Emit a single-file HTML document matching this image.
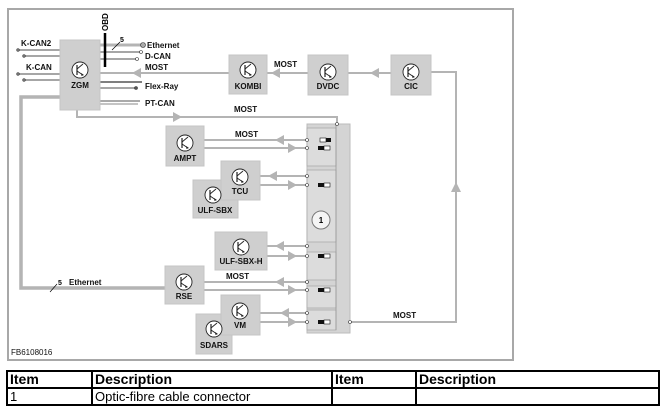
<!DOCTYPE html>
<html><head><meta charset="utf-8"><style>
body{margin:0;background:#fff;width:663px;height:416px;overflow:hidden;font-family:"Liberation Sans",sans-serif}
svg{position:absolute;left:0;top:0}
table{position:absolute;left:6px;top:370px;width:654px;border-collapse:collapse;table-layout:fixed;font-family:"Liberation Sans Narrow","Liberation Sans",sans-serif;font-size:13px}
td{border:2px solid #000;height:15px;padding:0 2px;line-height:15px;white-space:nowrap;overflow:hidden}
th{border:2px solid #000;height:15px;padding:0 2px;text-align:left;font-size:14px;line-height:15px}
</style></head><body>
<svg width="663" height="370" xmlns="http://www.w3.org/2000/svg" font-family="Liberation Sans, sans-serif" font-size="8" font-weight="bold">
<defs>
<g id="t"><circle cx="0" cy="0" r="8" fill="#fff" stroke="#222" stroke-width="0.9"/><line x1="-3" y1="-5" x2="-3" y2="5" stroke="#222" stroke-width="1.2"/><line x1="-3" y1="-1" x2="3" y2="-6" stroke="#222" stroke-width="0.9"/><line x1="-3" y1="1" x2="3" y2="5" stroke="#222" stroke-width="0.9"/><path d="M1 3 L4 5 L1.5 6 Z" fill="#222"/></g>
</defs>
<rect x="8" y="9" width="505" height="351" fill="#fff" stroke="#a8a8a8" stroke-width="2"/>
<g stroke="#b4b4b4" fill="none" stroke-width="2">
<line x1="18" y1="50" x2="60" y2="50" stroke="#888" stroke-width="1.5"/>
<line x1="24" y1="56" x2="60" y2="56" stroke="#888" stroke-width="1.5"/>
<line x1="18" y1="74" x2="60" y2="74" stroke="#888" stroke-width="1.5"/>
<line x1="24" y1="80" x2="60" y2="80" stroke="#888" stroke-width="1.5"/>
<polyline points="60,97 21,97 21,288 165,288" stroke-width="3.5"/>
<line x1="100" y1="45" x2="142" y2="45" stroke-width="3"/>
<line x1="100" y1="52" x2="140" y2="52" stroke="#888" stroke-width="1.5"/>
<line x1="100" y1="59" x2="136" y2="59" stroke="#888" stroke-width="1.5"/>
<line x1="100" y1="82" x2="142" y2="82" stroke="#555" stroke-width="1.5"/>
<line x1="100" y1="88" x2="136" y2="88" stroke="#888" stroke-width="1.5"/>
<line x1="100" y1="101" x2="140" y2="101" stroke="#555" stroke-width="1"/>
<line x1="100" y1="104" x2="138" y2="104" stroke="#888" stroke-width="1"/>
<polyline points="100,73 229,73"/>
<polyline points="267,73 308,73"/>
<polyline points="348,73 391,73"/>
<polyline points="431,72 456,72 456,322 350,322"/>
<polyline points="77,110 77,117 337,117 337,124"/>
<line x1="204" y1="140" x2="307" y2="140"/><line x1="204" y1="148" x2="307" y2="148"/>
<line x1="260" y1="176" x2="307" y2="176"/><line x1="260" y1="185" x2="307" y2="185"/>
<line x1="267" y1="246" x2="307" y2="246"/><line x1="267" y1="256" x2="307" y2="256"/>
<line x1="204" y1="282" x2="307" y2="282"/><line x1="204" y1="290" x2="307" y2="290"/>
<line x1="260" y1="313" x2="307" y2="313"/><line x1="260" y1="322" x2="307" y2="322"/>
</g>
<g fill="#b4b4b4">
<path d="M132 73 l9 -5 v10z"/><path d="M271 73 l9 -5 v10z"/><path d="M370 73 l9 -5 v10z"/>
<path d="M456 182 l-5 10 h10z"/><path d="M182 117 l-9 -5 v10z"/>
<path d="M275 140 l9 -5 v10z"/><path d="M297 148 l-9 -5 v10z"/>
<path d="M268 176 l9 -5 v10z"/><path d="M297 185 l-9 -5 v10z"/>
<path d="M275 246 l9 -5 v10z"/><path d="M297 256 l-9 -5 v10z"/>
<path d="M275 282 l9 -5 v10z"/><path d="M297 290 l-9 -5 v10z"/>
<path d="M280 313 l9 -5 v10z"/><path d="M297 322 l-9 -5 v10z"/>
</g>
<rect x="307" y="124" width="43" height="209" fill="#d4d4d4" stroke="#bbb"/>
<g fill="#dcdcdc" stroke="#aaa" stroke-width="0.8">
<rect x="307" y="128" width="29" height="38"/><rect x="307" y="170" width="29" height="72"/>
<rect x="307" y="252" width="29" height="28"/><rect x="307" y="286" width="29" height="22"/><rect x="307" y="310" width="29" height="20"/>
</g>
<line x1="336" y1="124" x2="336" y2="330" stroke="#999" stroke-width="0.8"/>
<circle cx="321" cy="220" r="9" fill="#f4f4f4" stroke="#777"/>
<text x="321" y="223" text-anchor="middle" font-size="8">1</text>
<g fill="#111">
<rect x="320" y="138" width="6" height="4" fill="#fff" stroke="#111" stroke-width="0.6"/><rect x="326" y="138" width="5" height="4"/>
<rect x="318" y="146" width="6" height="4"/><rect x="324" y="146" width="6" height="4" fill="#fff" stroke="#111" stroke-width="0.6"/>
<rect x="318" y="183" width="6" height="4"/><rect x="324" y="183" width="6" height="4" fill="#fff" stroke="#111" stroke-width="0.6"/>
<rect x="318" y="254" width="6" height="4"/><rect x="324" y="254" width="6" height="4" fill="#fff" stroke="#111" stroke-width="0.6"/>
<rect x="318" y="288" width="6" height="4"/><rect x="324" y="288" width="6" height="4" fill="#fff" stroke="#111" stroke-width="0.6"/>
<rect x="318" y="320" width="6" height="4"/><rect x="324" y="320" width="6" height="4" fill="#fff" stroke="#111" stroke-width="0.6"/>
</g>
<g fill="#fff" stroke="#333" stroke-width="0.6">
<circle cx="307" cy="140" r="1.5"/><circle cx="307" cy="148" r="1.5"/><circle cx="307" cy="176" r="1.5"/><circle cx="307" cy="185" r="1.5"/>
<circle cx="307" cy="246" r="1.5"/><circle cx="307" cy="256" r="1.5"/><circle cx="307" cy="282" r="1.5"/><circle cx="307" cy="290" r="1.5"/>
<circle cx="307" cy="313" r="1.5"/><circle cx="307" cy="322" r="1.5"/><circle cx="350" cy="322" r="1.5"/><circle cx="337" cy="124" r="1.5"/>
<circle cx="143" cy="45" r="2.5" fill="#aaa"/><circle cx="141" cy="52" r="1.5"/><circle cx="137" cy="59" r="1.5"/><circle cx="136" cy="88" r="1.5" fill="#555"/><circle cx="18" cy="50" r="1.3" fill="#888"/><circle cx="24" cy="56" r="1.3" fill="#888"/><circle cx="18" cy="74" r="1.3" fill="#888"/><circle cx="24" cy="80" r="1.3" fill="#888"/>
</g>
<line x1="105" y1="33" x2="105" y2="67" stroke="#000" stroke-width="2.5"/>
<text transform="translate(108,31) rotate(-90)" font-size="8">OBD</text>
<line x1="112" y1="50" x2="120" y2="42" stroke="#000" stroke-width="0.7"/><text x="120" y="42" font-size="7">5</text>
<line x1="50" y1="292" x2="57" y2="284" stroke="#000" stroke-width="0.7"/><text x="58" y="285" font-size="7">5</text>
<g fill="#cfcfcf" stroke="#c4c4c4">
<rect x="60" y="40" width="40" height="70"/>
<rect x="229" y="55" width="38" height="39"/><rect x="308" y="55" width="40" height="40"/><rect x="391" y="55" width="40" height="40"/>
<rect x="166" y="126" width="38" height="40"/>
<rect x="193" y="180" width="45" height="38"/><rect x="221" y="161" width="39" height="39"/>
<rect x="215" y="232" width="52" height="38"/>
<rect x="165" y="266" width="39" height="38"/>
<rect x="196" y="314" width="36" height="40"/><rect x="221" y="295" width="39" height="40"/>
</g>
<use href="#t" x="80" y="70"/><use href="#t" x="248" y="70"/><use href="#t" x="328" y="72"/><use href="#t" x="411" y="72"/>
<use href="#t" x="185" y="143"/><use href="#t" x="213" y="195"/><use href="#t" x="240" y="177"/><use href="#t" x="241" y="247"/>
<use href="#t" x="184" y="282"/><use href="#t" x="214" y="329"/><use href="#t" x="240" y="311"/>
<g text-anchor="middle" fill="#111">
<text x="80" y="88">ZGM</text><text x="248" y="89">KOMBI</text><text x="328" y="89">DVDC</text><text x="411" y="89">CIC</text>
<text x="185" y="161">AMPT</text><text x="215" y="213">ULF-SBX</text><text x="240" y="194">TCU</text><text x="241" y="264">ULF-SBX-H</text>
<text x="184" y="299">RSE</text><text x="214" y="348">SDARS</text><text x="240" y="328">VM</text>
</g>
<g fill="#111">
<text x="21" y="46">K-CAN2</text><text x="26" y="70">K-CAN</text>
<text x="147" y="48">Ethernet</text><text x="145" y="59">D-CAN</text><text x="145" y="70">MOST</text><text x="145" y="89">Flex-Ray</text><text x="145" y="106">PT-CAN</text>
<text x="274" y="67">MOST</text><text x="234" y="112">MOST</text><text x="235" y="137">MOST</text><text x="226" y="279">MOST</text><text x="393" y="318">MOST</text>
<text x="69" y="285">Ethernet</text>
<text x="11" y="355" font-weight="normal">FB6108016</text>
</g>
</svg>
<table>
<colgroup><col style="width:85px"><col style="width:240px"><col style="width:84px"><col></colgroup>
<tr><th>Item</th><th>Description</th><th>Item</th><th>Description</th></tr>
<tr><td>1</td><td>Optic-fibre cable connector</td><td></td><td></td></tr>
</table>
</body></html>
